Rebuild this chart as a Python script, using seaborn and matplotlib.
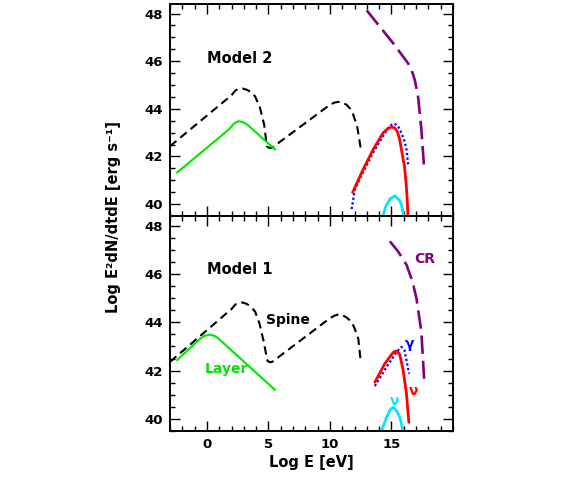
import matplotlib
matplotlib.use("Agg")
import matplotlib.pyplot as plt
from matplotlib.ticker import MultipleLocator
import seaborn as sns

# ---------------- data ----------------
# Model 2 (top panel)
m2_spine_x = [-3.0, 2.0, 2.3, 2.57, 2.9, 3.24, 3.6, 3.92, 4.32, 4.65, 4.87, 5.05, 5.3,
              10.0, 10.35, 10.67, 11.0, 11.35, 11.65, 11.89, 12.21, 12.49]
m2_spine_y = [42.43, 44.57, 44.76, 44.84, 44.85, 44.8, 44.7, 44.52, 44.03, 43.34, 42.43, 42.36, 42.37,
              44.17, 44.26, 44.29, 44.26, 44.17, 44.0, 43.75, 43.27, 42.37]
m2_layer_x = [-2.43, 1.8, 2.2, 2.57, 2.9, 3.3, 5.54]
m2_layer_y = [41.32, 43.14, 43.38, 43.48, 43.45, 43.33, 42.29]
m2_nu_x = [11.84, 12.7, 13.51, 14.32, 14.7, 15.0, 15.25, 15.46, 15.65, 15.81, 16.05, 16.2, 16.3, 16.35]
m2_nu_y = [40.49, 41.46, 42.29, 42.99, 43.17, 43.24, 43.2, 43.06, 42.75, 42.29, 41.6, 40.8, 40.0, 39.3]
m2_gamma_x = [11.76, 12.03, 12.7, 13.51, 14.6, 14.9, 15.19, 15.5, 15.81, 16.05, 16.22, 16.35]
m2_gamma_y = [39.79, 40.63, 41.35, 42.16, 43.1, 43.3, 43.38, 43.3, 42.99, 42.65, 42.29, 41.67]
m2_nul_x = [14.2, 14.5, 14.87, 15.27, 15.68, 15.85, 16.05]
m2_nul_y = [39.3, 39.85, 40.21, 40.35, 40.14, 39.9, 39.3]
m2_cr_x = [12.98, 15.14, 16.35, 16.65, 16.89, 17.16, 17.43, 17.65]
m2_cr_y = [48.14, 46.75, 45.91, 45.6, 45.22, 44.52, 43.13, 41.53]

# Model 1 (bottom panel)
m1_spine_x = [-3.0, 2.0, 2.3, 2.57, 2.9, 3.24, 3.6, 3.92, 4.27, 4.59, 4.92, 5.1, 5.3,
              10.0, 10.35, 10.7, 11.0, 11.35, 11.76, 12.0, 12.3, 12.49]
m1_spine_y = [42.36, 44.55, 44.73, 44.81, 44.82, 44.76, 44.63, 44.44, 43.95, 43.26, 42.4, 42.35, 42.36,
              44.17, 44.27, 44.33, 44.3, 44.2, 44.02, 43.75, 43.33, 42.43]
m1_layer_x = [-2.43, -0.6, -0.2, 0.27, 0.7, 1.08, 5.54]
m1_layer_y = [42.43, 43.3, 43.44, 43.49, 43.42, 43.26, 41.2]
m1_nu_x = [13.65, 14.46, 15.0, 15.2, 15.35, 15.5, 15.68, 15.95, 16.22, 16.41]
m1_nu_y = [41.52, 42.29, 42.66, 42.78, 42.81, 42.78, 42.65, 42.01, 41.04, 39.86]
m1_gamma_x = [13.65, 14.6, 15.41, 15.81, 16.05, 16.22, 16.43]
m1_gamma_y = [41.36, 42.15, 42.77, 42.98, 42.85, 42.43, 41.87]
m1_nul_x = [14.05, 14.6, 14.9, 15.14, 15.4, 15.68, 16.05]
m1_nul_y = [39.3, 40.07, 40.38, 40.48, 40.35, 40.07, 39.3]
m1_cr_x = [14.87, 15.54, 16.22, 16.7, 17.03, 17.43, 17.65]
m1_cr_y = [47.35, 46.93, 46.38, 45.7, 44.99, 43.6, 41.66]

x_ticks = [0, 5, 10, 15]
y_ticks = [40, 42, 44, 46, 48]

# ---------------- style ----------------
sns.set_theme(style="white")
plt.rcParams["font.family"] = ["DejaVu Sans"]
plt.rcParams["font.weight"] = "bold"
for key in ("text.color", "axes.labelcolor", "xtick.color", "ytick.color", "axes.edgecolor"):
    plt.rcParams[key] = "black"

BLACK = "#000000"
GREEN = "#00e600"
RED = "#ff0000"
BLUE = "#0000ff"
CYAN = "#00e5ff"
PURPLE = "#800080"

fig = plt.figure(figsize=(5.81, 4.82), dpi=100)
ax_top = fig.add_axes([0.2926, 0.5519, 0.4871, 0.4398])
ax_bot = fig.add_axes([0.2926, 0.1058, 0.4871, 0.4461])


def draw(ax, sx, sy, lx, ly, nx, ny, gx, gy, cx, cy, rx, ry):
    sns.lineplot(x=sx, y=sy, ax=ax, sort=False, estimator=None, color=BLACK,
                 lw=1.5, linestyle=(0, (4, 2.4)))
    sns.lineplot(x=lx, y=ly, ax=ax, sort=False, estimator=None, color=GREEN, lw=1.5)
    sns.lineplot(x=gx, y=gy, ax=ax, sort=False, estimator=None, color=BLUE,
                 lw=1.6, linestyle=(0, (1, 1.1)))
    sns.lineplot(x=nx, y=ny, ax=ax, sort=False, estimator=None, color=RED, lw=2.0)
    sns.lineplot(x=cx, y=cy, ax=ax, sort=False, estimator=None, color=CYAN, lw=2.0)
    sns.lineplot(x=rx, y=ry, ax=ax, sort=False, estimator=None, color=PURPLE,
                 lw=1.9, linestyle=(0, (7, 2.6)))


draw(ax_top, m2_spine_x, m2_spine_y, m2_layer_x, m2_layer_y, m2_nu_x, m2_nu_y,
     m2_gamma_x, m2_gamma_y, m2_nul_x, m2_nul_y, m2_cr_x, m2_cr_y)
draw(ax_bot, m1_spine_x, m1_spine_y, m1_layer_x, m1_layer_y, m1_nu_x, m1_nu_y,
     m1_gamma_x, m1_gamma_y, m1_nul_x, m1_nul_y, m1_cr_x, m1_cr_y)

for ax in (ax_top, ax_bot):
    ax.set_xlim(-3, 20)
    ax.set_ylim(39.5, 48.4)
    ax.set_xticks(x_ticks)
    ax.set_yticks(y_ticks)
    ax.xaxis.set_minor_locator(MultipleLocator(1))
    ax.yaxis.set_minor_locator(MultipleLocator(0.5))
    ax.tick_params(which="both", direction="in", top=True, right=True,
                   bottom=True, left=True, color="black", width=1.0)
    ax.tick_params(which="major", length=7, labelsize=9.5, pad=5, labelcolor="black")
    ax.tick_params(which="minor", length=3.8)
    for s in ax.spines.values():
        s.set_linewidth(1.4)
        s.set_color("black")
    ax.set_xlabel("")
    ax.set_ylabel("")
    for lab in ax.get_xticklabels() + ax.get_yticklabels():
        lab.set_fontweight("bold")

ax_top.tick_params(labelbottom=False)
ax_bot.set_xlabel("Log E [eV]", fontsize=10.5, fontweight="bold", labelpad=3, color="black")

fig.text(0.195, 0.5508, "Log E²dN/dtdE [erg s⁻¹]", rotation=90, ha="center",
         va="center", fontsize=10.5, fontweight="bold", color="black")

# annotations
ax_top.text(0.0, 46.12, "Model 2", fontsize=10.5, fontweight="bold", ha="left", va="center", color=BLACK)
ax_bot.text(0.0, 46.17, "Model 1", fontsize=10.5, fontweight="bold", ha="left", va="center", color=BLACK)
ax_bot.text(6.55, 44.09, "Spine", fontsize=10, fontweight="bold", ha="center", va="center", color=BLACK)
ax_bot.text(1.55, 42.08, "Layer", fontsize=10, fontweight="bold", ha="center", va="center", color=GREEN)
ax_bot.text(17.7, 46.61, "CR", fontsize=10, fontweight="bold", ha="center", va="center", color=PURPLE)
ax_bot.text(16.43, 43.1, "γ", fontsize=10, fontweight="bold", ha="center", va="center", color=BLUE)
ax_bot.text(16.76, 41.14, "ν", fontsize=10, fontweight="bold", ha="center", va="center", color=RED)
ax_bot.text(15.27, 40.76, "ν", fontsize=10, fontweight="bold", ha="center", va="center", color=CYAN)

fig.savefig("out.png", dpi=100)
